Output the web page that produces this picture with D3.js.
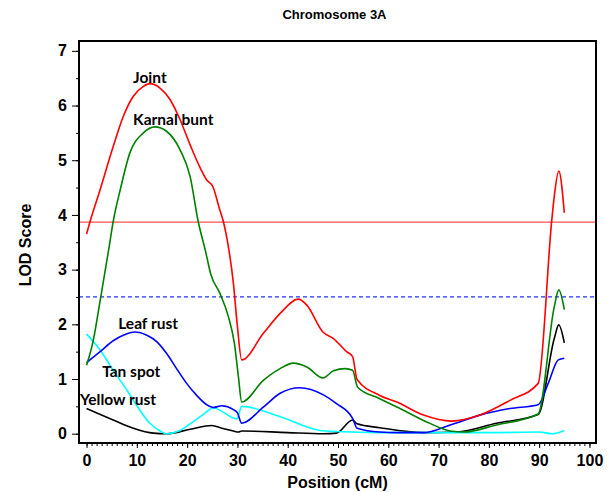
<!DOCTYPE html>
<html>
<head>
<meta charset="utf-8">
<script src="https://cdn.jsdelivr.net/npm/d3@7"></script>
<style>
  body { margin: 0; background: #fff; }
  svg { display: block; }
  .tick text { font-family: "Liberation Sans", Arial, sans-serif; font-weight: bold; font-size: 16px; }
</style>
</head>
<body>
<div id="chart"></div>
<script>
// LOD profiles along chromosome 3A, [position cM, LOD]
var joint = [[0,3.65],[0.7,3.88],[2.7,4.46],[5.3,5.25],[7.3,5.80],[9.3,6.17],[11.3,6.35],[12.6,6.40],[14.6,6.32],[16.6,6.11],[18.6,5.74],[20.6,5.28],[22.6,4.86],[23.9,4.64],[25.1,4.52],[26.5,4.09],[27.2,3.88],[28.2,3.42],[29.2,2.75],[30,1.96],[30.85,1.35],[35.2,1.84],[38.5,2.2],[42.1,2.46],[43.8,2.35],[47,1.86],[49.1,1.74],[51.7,1.50],[52.9,1.41],[53.8,0.99],[58.3,0.70],[61.7,0.58],[67,0.34],[72.6,0.23],[78.2,0.34],[84.2,0.61],[89.8,0.92],[92.5,3.9],[93,4.34],[93.9,4.80],[95,4.04]];
var karnalBunt = [[0,1.25],[1.35,1.71],[2.5,2.32],[4.5,3.42],[5.3,3.88],[6.7,4.46],[8.6,5.13],[11.3,5.50],[13.6,5.61],[15.9,5.53],[18.6,5.19],[20.6,4.70],[22.2,3.88],[23.6,3.36],[24.75,2.9],[26.5,2.57],[28.2,2.14],[29.4,1.65],[30.2,1.04],[30.85,0.58],[35.2,0.98],[38.5,1.19],[41.1,1.29],[43.8,1.22],[47,1.02],[49.1,1.15],[51.4,1.19],[52.9,1.16],[53.9,0.85],[58.3,0.64],[63,0.43],[68,0.2],[72.3,0.05],[75,0.03],[81.5,0.16],[89.8,0.36],[93,2.32],[93.9,2.63],[95,2.27]];
var leafRust = [[0,1.30],[2.7,1.50],[5.3,1.70],[7.3,1.80],[9.6,1.86],[12,1.80],[14,1.68],[15.9,1.47],[17.9,1.19],[19.9,0.92],[21.9,0.70],[23.9,0.53],[25.2,0.48],[26.9,0.51],[29.2,0.44],[30,0.38],[30.85,0.19],[35.2,0.49],[38.5,0.74],[42.4,0.84],[47.1,0.71],[49.7,0.55],[52.9,0.28],[53.8,0.10],[58.3,0.03],[61.7,0.02],[67,0.02],[72.3,0.16],[78.2,0.34],[84.2,0.46],[89.8,0.53],[91.8,0.92],[93.8,1.35],[95,1.38]];
var tanSpot = [[0,1.82],[2.7,1.53],[5.3,1.16],[8,0.80],[10.6,0.43],[12.6,0.19],[14.6,0.05],[15.9,0.0],[18.6,0.06],[21.2,0.22],[23.2,0.35],[25.2,0.47],[29.9,0.27],[30.85,0.50],[38.5,0.31],[46.4,0.06],[49.7,0.04],[58.3,0.02],[70,0.02],[80,0.02],[90,0.03],[92.5,0.0],[95,0.06]];
var yellowRust = [[0,0.46],[5.3,0.25],[9.3,0.10],[13.3,0.01],[15.9,0.0],[20.6,0.08],[24.9,0.15],[26.9,0.10],[29.2,0.05],[30.2,0.03],[30.85,0.05],[40,0.02],[47.1,0.0],[49.7,0.01],[52.9,0.25],[53.8,0.18],[58.3,0.11],[67,0.02],[73.6,0.03],[81.5,0.19],[89.8,0.35],[93,1.74],[93.9,1.99],[95,1.66]];

var traitNames = ["Joint", "Karnal bunt", "Leaf rust", "Tan spot", "Yellow rust"];
var traitData = [joint, karnalBunt, leafRust, tanSpot, yellowRust];
var traitColors = ["#ff0000", "#008000", "#0000ff", "#00ffff", "#000000"];
// label anchors, in cM / LOD
var labelAt = [[9.25,6.42],[9.25,5.65],[6.3,1.91],[3.1,1.03],[-1.3,0.52]];

var jointThreshold = 3.87;
var singleThreshold = 2.5;

var xTicks = [0,10,20,30,40,50,60,70,80,90,100];
var yTicks = [0,1,2,3,4,5,6,7];

var W = 612, H = 492;
var plotL = 79, plotR = 596, plotT = 41, plotB = 443;

var svg = d3.select("#chart").append("svg").attr("width", W).attr("height", H);

var x = d3.scaleLinear().domain([-1.5, 101.3]).range([plotL, plotR]);
var y = d3.scaleLinear().domain([-0.17, 7.18]).range([plotB, plotT]);

// minor ticks
svg.append("g").attr("transform", "translate(0," + plotB + ")")
  .call(d3.axisBottom(x).tickValues(d3.range(0, 101, 1)).tickSize(3).tickFormat(""))
  .call(g => g.select(".domain").remove());
svg.append("g").attr("transform", "translate(" + plotL + ",0)")
  .call(d3.axisLeft(y).tickValues(d3.range(0, 7.01, 0.5)).tickSize(3).tickFormat(""))
  .call(g => g.select(".domain").remove());

// major ticks
svg.append("g").attr("transform", "translate(0," + plotB + ")")
  .call(d3.axisBottom(x).tickValues(xTicks).tickSize(5).tickPadding(7).tickFormat(d3.format("d")))
  .call(g => g.select(".domain").remove());
svg.append("g").attr("transform", "translate(" + plotL + ",0)")
  .call(d3.axisLeft(y).tickValues(yTicks).tickSize(7).tickPadding(5).tickFormat(d3.format("d")))
  .call(g => g.select(".domain").remove());

svg.selectAll(".tick line").attr("stroke", "#000").attr("stroke-width", 1);

// thresholds
svg.append("line")
  .attr("x1", plotL).attr("x2", plotR)
  .attr("y1", y(jointThreshold)).attr("y2", y(jointThreshold))
  .attr("stroke", "#ff5050").attr("stroke-width", 1.3);
svg.append("line")
  .attr("x1", plotL).attr("x2", plotR)
  .attr("y1", y(singleThreshold)).attr("y2", y(singleThreshold))
  .attr("stroke", "#2030ff").attr("stroke-width", 1.2)
  .attr("stroke-dasharray", "4,3");

var line = d3.line()
  .x(d => x(d[0]))
  .y(d => y(d[1]))
  .curve(d3.curveMonotoneX);

// draw back to front so red sits on top
for (var i = traitData.length - 1; i >= 0; i--) {
  svg.append("path")
    .attr("d", line(traitData[i]))
    .attr("fill", "none")
    .attr("stroke", traitColors[i])
    .attr("stroke-width", 1.6);
}

traitNames.forEach(function(name, i) {
  svg.append("text")
    .attr("x", x(labelAt[i][0]))
    .attr("y", y(labelAt[i][1]))
    .attr("font-family", "Lato, 'Open Sans', sans-serif")
    .attr("font-weight", "bold")
    .attr("font-size", 15.5)
    .attr("fill", "#000")
    .text(name);
});

// frame
svg.append("rect")
  .attr("x", plotL).attr("y", plotT)
  .attr("width", plotR - plotL).attr("height", plotB - plotT)
  .attr("fill", "none").attr("stroke", "#000").attr("stroke-width", 2);

svg.append("text")
  .attr("x", (plotL + plotR) / 2 - 3).attr("y", 19)
  .attr("text-anchor", "middle")
  .attr("font-family", "'Liberation Sans', Arial, sans-serif")
  .attr("font-weight", "bold").attr("font-size", 13)
  .text("Chromosome 3A");

svg.append("text")
  .attr("x", (plotL + plotR) / 2).attr("y", 488)
  .attr("text-anchor", "middle")
  .attr("font-family", "'Liberation Sans', Arial, sans-serif")
  .attr("font-weight", "bold").attr("font-size", 16)
  .text("Position (cM)");

svg.append("text")
  .attr("transform", "translate(31," + ((plotT + plotB) / 2 + 3) + ") rotate(-90)")
  .attr("text-anchor", "middle")
  .attr("font-family", "'Liberation Sans', Arial, sans-serif")
  .attr("font-weight", "bold").attr("font-size", 16)
  .text("LOD Score");
</script>
</body>
</html>
